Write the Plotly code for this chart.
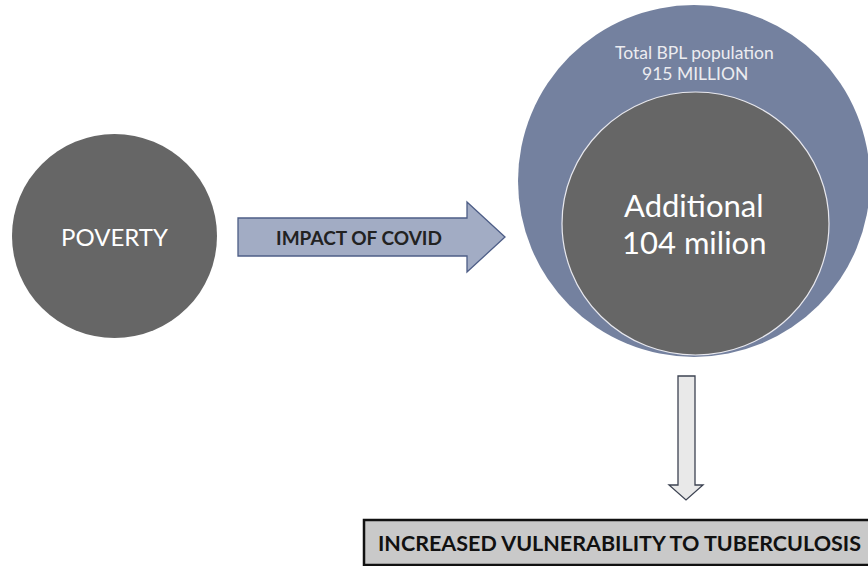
import plotly.graph_objects as go

# ---- data (text content) ----
source_label = ["POVERTY"]
flow_label = ["IMPACT OF COVID"]
total_label = ["Total BPL population", "915 MILLION"]
added_label = ["Additional", "104 milion"]
outcome_label = ["INCREASED VULNERABILITY TO TUBERCULOSIS"]

W, H = 868, 566
FONT = "Lato"

fig = go.Figure()
fig.add_trace(go.Scatter(x=[0, W], y=[0, H], mode="markers",
                         marker=dict(opacity=0), hoverinfo="skip", showlegend=False))

shapes = []
shapes.append(dict(type="circle", xref="x", yref="y", x0=12, x1=217, y0=134, y1=338,
                   fillcolor="#666666", line=dict(width=0)))
ax0, ax1, tipx = 238, 467, 505
sy0, sy1, hy0, hy1, ty = 218, 256, 202, 272, 237
shapes.append(dict(type="path", xref="x", yref="y",
                   path=f"M{ax0},{sy0} L{ax1},{sy0} L{ax1},{hy0} L{tipx},{ty} L{ax1},{hy1} L{ax1},{sy1} L{ax0},{sy1} Z",
                   fillcolor="#a2acc4", line=dict(color="#4d5d86", width=1.3)))
shapes.append(dict(type="circle", xref="x", yref="y", x0=518, x1=870, y0=5, y1=357,
                   fillcolor="#74819f", line=dict(width=0)))
shapes.append(dict(type="circle", xref="x", yref="y", x0=562, x1=829, y0=92, y1=355,
                   fillcolor="#666666", line=dict(color="#e8e8ee", width=1.2)))
dx0, dx1, hx0, hx1, tx = 678, 695, 669, 703, 686
dy0, dy1, ty2 = 376, 485, 500
shapes.append(dict(type="path", xref="x", yref="y",
                   path=f"M{dx0},{dy0} L{dx1},{dy0} L{dx1},{dy1} L{hx1},{dy1} L{tx},{ty2} L{hx0},{dy1} L{dx0},{dy1} Z",
                   fillcolor="#e9e9e9", line=dict(color="#3d4352", width=1.3)))
shapes.append(dict(type="rect", xref="x", yref="y", x0=364, x1=890, y0=520, y1=565,
                   fillcolor="#c9c9c9", line=dict(color="#111111", width=2.5)))

annotations = [
    dict(x=114, y=236, text=source_label[0], font=dict(family=FONT, size=24, color="#ffffff")),
    dict(x=359, y=237, text="<b>" + flow_label[0] + "</b>", font=dict(family=FONT, size=19, color="#222222")),
    dict(x=694.5, y=52, text=total_label[0], font=dict(family=FONT, size=17.5, color="#ececf0")),
    dict(x=694.5, y=73, text=total_label[1], font=dict(family=FONT, size=17.5, color="#ececf0")),
    dict(x=694, y=205, text=added_label[0], font=dict(family=FONT, size=31, color="#ffffff")),
    dict(x=694, y=242, text=added_label[1], font=dict(family=FONT, size=31, color="#ffffff")),
    dict(x=619, y=543, text="<b>" + outcome_label[0] + "</b>", font=dict(family=FONT, size=21.5, color="#111111")),
]
for a in annotations:
    a.update(xref="x", yref="y", showarrow=False, xanchor="center", yanchor="middle")

fig.update_layout(
    width=W, height=H, margin=dict(l=0, r=0, t=0, b=0),
    paper_bgcolor="white", plot_bgcolor="white",
    xaxis=dict(range=[0, W], visible=False, fixedrange=True),
    yaxis=dict(range=[H, 0], visible=False, fixedrange=True),
    shapes=shapes, annotations=annotations, showlegend=False,
)
fig.write_html("out.html", config={"displayModeBar": False, "staticPlot": True},
               post_script="document.body.style.margin='0';document.body.style.overflow='hidden';")
